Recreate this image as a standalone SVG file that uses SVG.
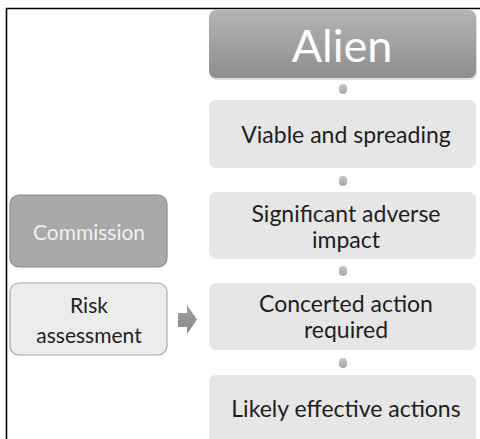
<svg xmlns="http://www.w3.org/2000/svg" width="480" height="439" viewBox="0 0 480 439">
<defs>
<linearGradient id="gAlien" x1="0" y1="0" x2="0" y2="1">
<stop offset="0" stop-color="#b4b4b4"/>
<stop offset="1" stop-color="#8e8e8e"/>
</linearGradient>
<linearGradient id="gDot" x1="0" y1="0" x2="0" y2="1">
<stop offset="0" stop-color="#c4c4c4"/>
<stop offset="1" stop-color="#a8a8a8"/>
</linearGradient>
<linearGradient id="gArrow" x1="0" y1="0" x2="0" y2="1">
<stop offset="0" stop-color="#a0a0a0"/>
<stop offset="1" stop-color="#8a8a8a"/>
</linearGradient>
</defs>
<style>
text{font-family:Lato,"Noto Sans",sans-serif;text-anchor:middle}
.step{fill:#e6e6e6}
.dark{fill:#1e1e1e;font-size:23px}
.dot{fill:url(#gDot)}
.side{font-size:21px}
</style>
<rect width="480" height="439" fill="#ffffff"/>
<path d="M6.5 439 V8.5 H480" fill="none" stroke="#000" stroke-width="1.6"/>

<g id="alien">
<rect x="210" y="12" width="267" height="68" rx="7" fill="#c8c8c8" opacity="0.6"/>
<rect x="209" y="10" width="267" height="68" rx="7" fill="url(#gAlien)"/>
<text x="342" y="62" style="font-size:45px;fill:#ffffff">Alien</text>
</g>
<g id="viable">
<rect class="step" x="209" y="100" width="267" height="68" rx="7"/>
<text class="dark" x="346" y="143">Viable and spreading</text>
</g>
<g id="significant">
<rect class="step" x="209" y="192" width="267" height="67" rx="7"/>
<text class="dark" x="346" y="222">Significant adverse</text>
<text class="dark" x="346" y="248">impact</text>
</g>
<g id="concerted">
<rect class="step" x="209" y="283" width="267" height="67" rx="7"/>
<text class="dark" x="346" y="312">Concerted action</text>
<text class="dark" x="346" y="338">required</text>
</g>
<g id="likely">
<rect class="step" x="209" y="375" width="267" height="80" rx="7"/>
<text class="dark" x="346" y="417">Likely effective actions</text>
</g>
<g id="commission">
<rect x="10" y="195" width="157" height="72" rx="9" fill="#a9a9a9" stroke="#8c8c8c" stroke-width="1.2"/>
<text class="side" x="89" y="240" style="fill:#f0f0f0">Commission</text>
</g>
<g id="risk">
<rect x="10" y="283" width="157" height="72" rx="9" fill="#ececec" stroke="#a8a8a8" stroke-width="1.2"/>
<text class="side" x="89" y="313" style="fill:#1e1e1e">Risk</text>
<text class="side" x="89" y="343" style="fill:#1e1e1e">assessment</text>
</g>
<g id="connectors">
<rect class="dot" x="339" y="84" width="8" height="10" rx="4"/>
<rect class="dot" x="339" y="176" width="8" height="10" rx="4"/>
<rect class="dot" x="339" y="266" width="8" height="10" rx="4"/>
<rect class="dot" x="339" y="358" width="8" height="10" rx="4"/>
<path d="M178 313 H187 V305 L197 319.5 L187 334 V327 H178 Z" fill="url(#gArrow)"/>
</g>
</svg>
